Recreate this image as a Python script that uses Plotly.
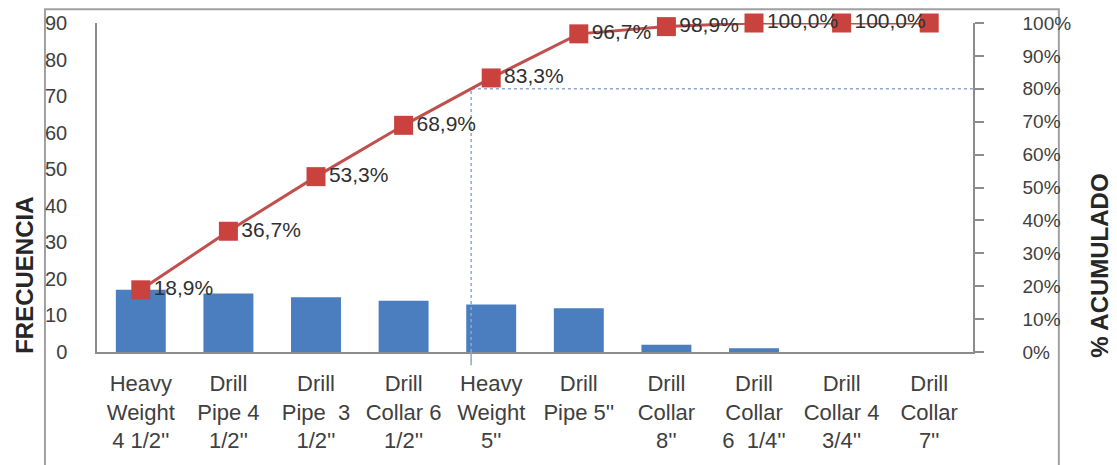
import plotly.graph_objects as go

categories = ["Heavy<br>Weight<br>4 1/2''", "Drill<br>Pipe 4<br>1/2''", "Drill<br>Pipe  3<br>1/2''",
              "Drill<br>Collar 6<br>1/2''", "Heavy<br>Weight<br>5''", "Drill<br>Pipe 5''",
              "Drill<br>Collar<br>8''", "Drill<br>Collar<br>6  1/4''", "Drill<br>Collar 4<br>3/4''",
              "Drill<br>Collar<br>7''"]
frecuencia = [17, 16, 15, 14, 13, 12, 2, 1, 0, 0]
acumulado = [18.9, 36.7, 53.3, 68.9, 83.3, 96.7, 98.9, 100.0, 100.0, 100.0]
umbral = 80
y_ticks = [0, 10, 20, 30, 40, 50, 60, 70, 80, 90]
y2_ticks = [0, 10, 20, 30, 40, 50, 60, 70, 80, 90, 100]
y2_ticktext = [f"{v}%" for v in y2_ticks]

xs = list(range(len(categories)))
labels = [f"{v:.1f}%".replace(".", ",") for v in acumulado]
labels[-1] = ""  # last data label not shown in the reference

# x position where cumulative crosses the threshold
cross_x = None
for i in range(1, len(acumulado)):
    if acumulado[i - 1] < umbral <= acumulado[i]:
        cross_x = (i - 1) + (umbral - acumulado[i - 1]) / (acumulado[i] - acumulado[i - 1])
        break

TXT = "#404040"
AX = "#8c8c8c"
FONT = "Liberation Sans, Arial, sans-serif"

fig = go.Figure()
fig.add_trace(go.Bar(x=xs, y=frecuencia, width=0.57, marker=dict(color="#4A7EBF", line=dict(width=0)),
                     showlegend=False, hoverinfo="skip"))
fig.add_trace(go.Scatter(x=[cross_x, cross_x, xs[-1] + 0.5], y=[0, umbral, umbral], yaxis="y2",
                         mode="lines", line=dict(color="#8FA6CC", width=1.5, dash="dot"),
                         showlegend=False, hoverinfo="skip"))
fig.add_trace(go.Scatter(x=xs, y=acumulado, yaxis="y2", mode="lines+markers+text",
                         line=dict(color="#C0504D", width=3),
                         marker=dict(symbol="square", size=19, color="#C9423D"),
                         text=labels, textposition="middle right",
                         textfont=dict(size=21, color="#303030", family=FONT),
                         cliponaxis=False, showlegend=False, hoverinfo="skip"))

fig.update_layout(
    width=1117, height=465,
    margin=dict(l=97, r=144, t=20, b=113),
    paper_bgcolor="white", plot_bgcolor="white",
    font=dict(family=FONT, color=TXT),
    bargap=0.43,
    xaxis=dict(tickmode="array", tickvals=xs, ticktext=categories, range=[-0.5, len(xs) - 0.5],
               showgrid=False, zeroline=False, showline=True, linecolor=AX, linewidth=1.5,
               ticks="", tickfont=dict(size=22, color=TXT), ticklabelstandoff=11, tickangle=0),
    yaxis=dict(range=[0, 90], tickmode="array", tickvals=y_ticks, showgrid=False, zeroline=False,
               showline=True, linecolor=AX, linewidth=1.5, ticks="", tickfont=dict(size=20, color=TXT),
               ticklabelstandoff=24),
    yaxis2=dict(range=[0, 100], tickmode="array", tickvals=y2_ticks, ticktext=y2_ticktext,
                overlaying="y", side="right", anchor="x",
                showgrid=False, zeroline=False, showline=True, linecolor=AX, linewidth=1.5,
                ticks="outside", ticklen=9, tickcolor=AX, tickwidth=1.5,
                tickfont=dict(size=19, color=TXT), ticklabelstandoff=35),
    shapes=[
        dict(type="rect", xref="paper", yref="paper", x0=-0.0594, x1=1.098, y0=-0.4, y1=1.042,
             line=dict(color="#a0a0a0", width=2), fillcolor="rgba(0,0,0,0)", layer="below"),
        dict(type="line", xref="x", yref="paper", x0=cross_x, x1=cross_x, y0=-0.04, y1=0,
             line=dict(color="#8FA6CC", width=1.5)),
    ],
    annotations=[
        dict(text="<b>FRECUENCIA</b>", xref="paper", yref="paper", x=-0.082, y=0.232,
             textangle=-90, showarrow=False, font=dict(size=24, color="#262626"),
             xanchor="center", yanchor="middle"),
        dict(text="<b>% ACUMULADO</b>", xref="paper", yref="paper", x=1.145, y=0.262,
             textangle=-90, showarrow=False, font=dict(size=24, color="#262626"),
             xanchor="center", yanchor="middle"),
    ],
)

fig.write_html("out.html")
